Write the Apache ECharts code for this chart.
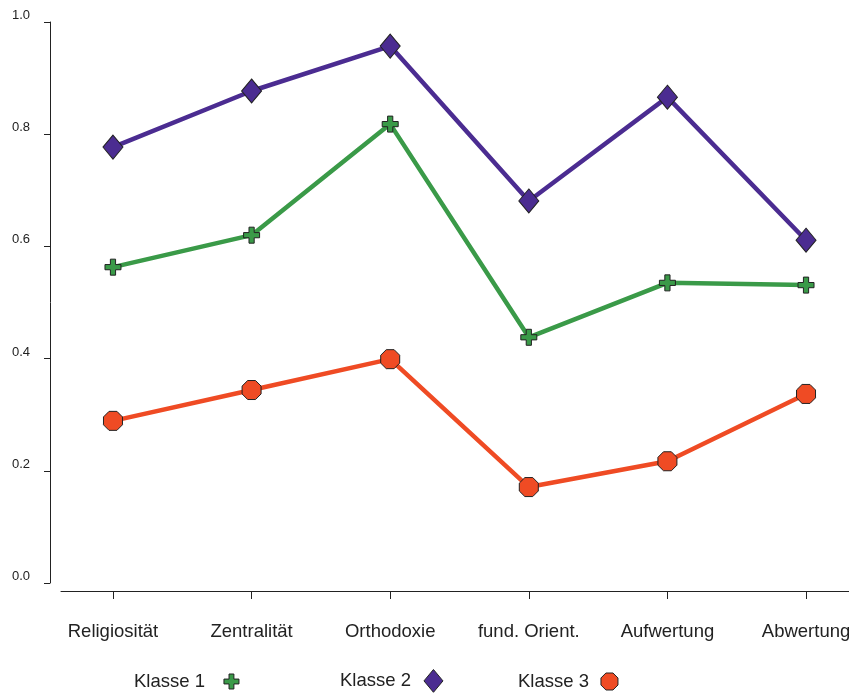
<!DOCTYPE html>
<html>
<head>
<meta charset="utf-8">
<script src="https://cdn.jsdelivr.net/npm/echarts@6/dist/echarts.min.js"></script>
<style>
html,body{margin:0;padding:0;background:#fff;}
#chart{width:849px;height:693px;}
</style>
</head>
<body>
<div id="chart"></div>
<script>
var categories = ['Religiosität', 'Zentralität', 'Orthodoxie', 'fund. Orient.', 'Aufwertung', 'Abwertung'];
var seriesNames = ['Klasse 1', 'Klasse 2', 'Klasse 3'];
var klasse1 = [0.563, 0.620, 0.818, 0.438, 0.535, 0.531];
var klasse2 = [0.777, 0.877, 0.957, 0.681, 0.866, 0.611];
var klasse3 = [0.289, 0.344, 0.399, 0.171, 0.217, 0.337];

var colors = ['#3A9A48', '#4B2C91', '#EF4B24'];
var plusPath = 'path://M-1.3,-4H1.3V-1.3H4V1.3H1.3V4H-1.3V1.3H-4V-1.3H-1.3Z';
var diamondPath = 'path://M0,-6L5,0L0,6L-5,0Z';
var octPath = 'path://M-2.07,-5H2.07L5,-2.07V2.07L2.07,5H-2.07L-5,2.07V-2.07Z';
var symbols = [plusPath, diamondPath, octPath];
var sizes = [[16, 16], [20, 24], [19, 19]];
var legendWidths = [15, 19, 17];
var legendGaps = [14, 8, 7];
var legendTops = [672, 669, 672];
var allData = [klasse1, klasse2, klasse3];

function toPairs(arr) { return arr.map(function (v, i) { return [i, v]; }); }
var idx = categories.map(function (c, i) { return i; });

var chart = echarts.init(document.getElementById('chart'));
var legendLefts = [134, 340, 518];
var font = 'Liberation Sans, Arial, sans-serif';
var option = {
  animation: false,
  backgroundColor: '#fff',
  grid: { left: 61, right: 0, top: 22, bottom: 110, outerBoundsMode: 'none', containLabel: false },
  xAxis: {
    type: 'value', min: -0.375, max: 5.31, offset: 8,
    axisLine: { show: true, onZero: false, lineStyle: { color: '#222', width: 1 } },
    axisTick: { show: true, length: 8, inside: false, customValues: idx, lineStyle: { color: '#222' } },
    axisLabel: {
      customValues: idx, margin: 31, fontSize: 18.5, color: '#222', fontFamily: font,
      formatter: function (v) { return categories[Math.round(v)]; }
    },
    splitLine: { show: false }
  },
  yAxis: {
    type: 'value', min: 0, max: 1, interval: 0.2, offset: 11,
    axisLine: { show: true, onZero: false, lineStyle: { color: '#222', width: 1 } },
    axisTick: { show: true, length: 6, lineStyle: { color: '#222' } },
    axisLabel: {
      margin: 20, fontSize: 13, color: '#222', fontFamily: font, verticalAlign: 'bottom',
      formatter: function (v) { return v.toFixed(1); }
    },
    splitLine: { show: false }
  },
  legend: seriesNames.map(function (n, i) {
    return {
      left: legendLefts[i], top: legendTops[i], align: 'right', padding: 0,
      itemWidth: legendWidths[i], itemHeight: 23, symbolKeepAspect: true,
      data: [{ name: n, icon: symbols[i] }],
      textStyle: { fontSize: 18.5, color: '#222', fontFamily: font, padding: [0, legendGaps[i], 0, 0] },
      itemStyle: { borderColor: '#222', borderWidth: 1 },
      selectedMode: false
    };
  }),
  series: seriesNames.map(function (n, i) {
    return {
      name: n, type: 'line', data: toPairs(allData[i]),
      symbol: symbols[i], symbolSize: sizes[i],
      lineStyle: { color: colors[i], width: 4.5 },
      itemStyle: { color: colors[i], borderColor: '#222', borderWidth: 1 },
      z: 2 + i
    };
  })
};
chart.setOption(option);
</script>
</body>
</html>
